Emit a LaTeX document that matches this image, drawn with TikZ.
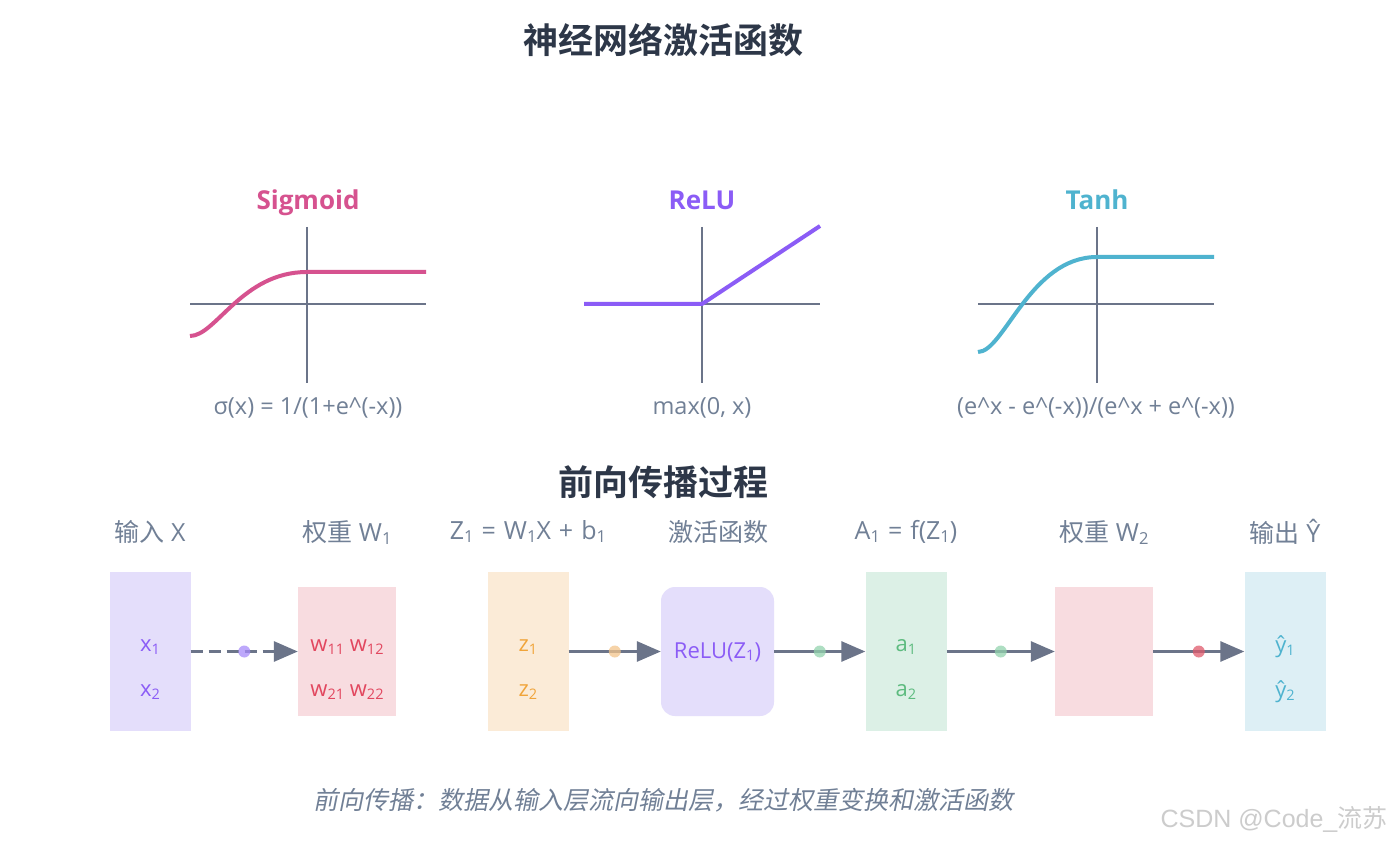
\documentclass[tikz,border=0pt]{standalone}
\usepackage{fontspec}
\setmainfont{Open Sans}
\newfontfamily\cjk{Noto Sans CJK SC}[BoldFont={Noto Sans CJK SC Bold}]
\newfontfamily\cjkslant{Noto Sans CJK SC}[FakeSlant=0.2]
\newfontfamily\wmfont{Liberation Sans}
\usetikzlibrary{arrows.meta}
\definecolor{titlec}{HTML}{2D3748}
\definecolor{axisc}{HTML}{6B7489}
\definecolor{labelc}{HTML}{718096}
\definecolor{sigc}{HTML}{D6528F}
\definecolor{reluc}{HTML}{8B5CF6}
\definecolor{tanhc}{HTML}{4FB3CF}
\definecolor{arrowc}{HTML}{6B7489}
\definecolor{fpurple}{HTML}{E4DEFB}
\definecolor{fpink}{HTML}{F8DCE0}
\definecolor{forange}{HTML}{FBEBD7}
\definecolor{fgreen}{HTML}{DCF0E6}
\definecolor{fblue}{HTML}{DDEFF5}
\definecolor{tpurple}{HTML}{8B5CF6}
\definecolor{tred}{HTML}{E2475F}
\definecolor{torange}{HTML}{F0A43A}
\definecolor{tgreen}{HTML}{5DBB7F}
\definecolor{tblue}{HTML}{4FB3CF}
\definecolor{dpurple}{HTML}{A78BFA}
\definecolor{dorange}{HTML}{F3C58C}
\definecolor{dgreen}{HTML}{94D3AE}
\definecolor{dred}{HTML}{E05A6C}
\definecolor{wmark}{HTML}{CCCCCC}
\newcommand{\sbx}[1]{\raisebox{-0.12em}{\scalebox{0.66}{#1}}}
\newcommand{\op}[1]{\hspace{0.32em}#1\hspace{0.32em}}
\tikzset{
  maintitle/.style={font=\fontsize{35}{40}\selectfont\cjk\bfseries, text=titlec, inner sep=0pt},
  gname/.style={font=\fontsize{26}{30}\selectfont\bfseries, inner sep=0pt, anchor=base},
  formula/.style={font=\fontsize{23.5}{26}\selectfont, text=labelc, inner sep=0pt, anchor=base},
  collabel/.style={font=\fontsize{25}{28}\selectfont, text=labelc, inner sep=0pt},
  cell/.style={font=\fontsize{22}{24}\selectfont, inner sep=0pt},
  axis/.style={draw=axisc, line width=2pt},
  curve/.style={line width=4pt},
  layerbox/.style={rectangle, draw=none, inner sep=0pt, minimum width=81pt, minimum height=159pt},
  wbox/.style={rectangle, draw=none, fill=fpink, inner sep=0pt, minimum width=98pt, minimum height=129pt},
  conn/.style={draw=arrowc, line width=3pt, -{Triangle[length=24pt,width=20pt]}},
  dot/.style={circle, draw=none, inner sep=0pt, minimum size=12pt, fill opacity=0.75},
}
\begin{document}
\begin{tikzpicture}[x=1pt,y=-1pt]
\useasboundingbox (0,0) rectangle (1393,842);
\fill[white] (0,0) rectangle (1393,842);

% main title
\node[maintitle] (title) at (663,40) {神经网络激活函数};

% Sigmoid
\node[gname, text=sigc] (sigt) at (308,210) {Sigmoid};
\draw[axis] (190,304) -- (426,304);
\draw[axis] (307,227) -- (307,383);
\draw[curve, sigc] (190,336) .. controls (216,336) and (242,272) .. (307,272) -- (426,272);
\node[formula] (sigf) at (308,414) {σ(x) = 1/(1+e\^{}(-x))};

% ReLU
\node[gname, text=reluc] (relut) at (702,210) {ReLU};
\draw[axis] (584,304) -- (820,304);
\draw[axis] (702,227) -- (702,383);
\draw[curve, reluc] (584,304) -- (702,304) -- (820,226);
\node[formula] (reluf) at (702,414) {max(0, x)};

% Tanh
\node[gname, text=tanhc] (tanht) at (1097,210) {Tanh};
\draw[axis] (978,304) -- (1214,304);
\draw[axis] (1097,227) -- (1097,383);
\draw[curve, tanhc] (978,352) .. controls (1004,352) and (1030,257) .. (1097,257) -- (1214,257);
\node[formula] (tanhf) at (1096,414) {(e\^{}x - e\^{}(-x))/(e\^{}x + e\^{}(-x))};

% forward propagation
\node[maintitle] (fwd) at (663,482) {前向传播过程};

\node[collabel] (l1) at (150,532) {{\cjk 输入} X};
\node[collabel] (l2) at (347,532) {{\cjk 权重} W\sbx{1}};
\node[collabel] (l3) at (528,532) {Z\sbx{1}\op{=}W\sbx{1}X\op{+}b\sbx{1}};
\node[collabel] (l4) at (718,532) {\cjk 激活函数};
\node[collabel] (l5) at (906,532) {A\sbx{1}\op{=}f(Z\sbx{1})};
\node[collabel] (l6) at (1104,532) {{\cjk 权重} W\sbx{2}};
\node[collabel] (l7) at (1285,532) {{\cjk 输出} Ŷ};

\node[layerbox, fill=fpurple] (inp) at (150,651.5) {};
\node[wbox] (w1) at (347,651.5) {};
\node[layerbox, fill=forange] (z) at (528,651.5) {};
\node[rectangle, rounded corners=14pt, fill=fpurple, draw=none, minimum width=113pt, minimum height=129pt, inner sep=0pt] (act) at (717.5,651.5) {};
\node[layerbox, fill=fgreen] (a) at (906,651.5) {};
\node[wbox] (w2) at (1104,651.5) {};
\node[layerbox, fill=fblue] (out) at (1285,651.5) {};

\node[cell, text=tpurple] (x1) at (150,647) {x\sbx{1}};
\node[cell, text=tpurple] (x2) at (150,692) {x\sbx{2}};
\node[cell, text=tred] (w1r1) at (347,647) {w\sbx{11} w\sbx{12}};
\node[cell, text=tred] (w1r2) at (347,692) {w\sbx{21} w\sbx{22}};
\node[cell, text=torange] (z1) at (528,647) {z\sbx{1}};
\node[cell, text=torange] (z2) at (528,692) {z\sbx{2}};
\node[cell, text=tpurple] (relu) at (717.5,652) {ReLU(Z\sbx{1})};
\node[cell, text=tgreen] (a1) at (906,647) {a\sbx{1}};
\node[cell, text=tgreen] (a2) at (906,692) {a\sbx{2}};
\node[cell, text=tblue] (y1) at (1285,647) {ŷ\sbx{1}};
\node[cell, text=tblue] (y2) at (1285,692) {ŷ\sbx{2}};

\draw[conn, dash pattern=on 12pt off 6pt] (inp.east) -- node[dot, fill=dpurple] (d1) {} (w1.west);
\draw[conn] (z.east) -- node[dot, fill=dorange] (d2) {} (act.west);
\draw[conn] (act.east) -- node[dot, fill=dgreen] (d3) {} (a.west);
\draw[conn] (a.east) -- node[dot, fill=dgreen] (d4) {} (w2.west);
\draw[conn] (w2.east) -- node[dot, fill=dred] (d5) {} (out.west);

\node[font=\fontsize{25}{28}\selectfont\cjkslant, text=labelc, inner sep=0pt] (note) at (663,800) {前向传播：数据从输入层流向输出层，经过权重变换和激活函数};
\node[font=\fontsize{25}{28}\selectfont, text=wmark, inner sep=0pt] (wm) at (1274,819) {{\wmfont CSDN @Code\_}{\cjk 流苏}};
\end{tikzpicture}
\end{document}
